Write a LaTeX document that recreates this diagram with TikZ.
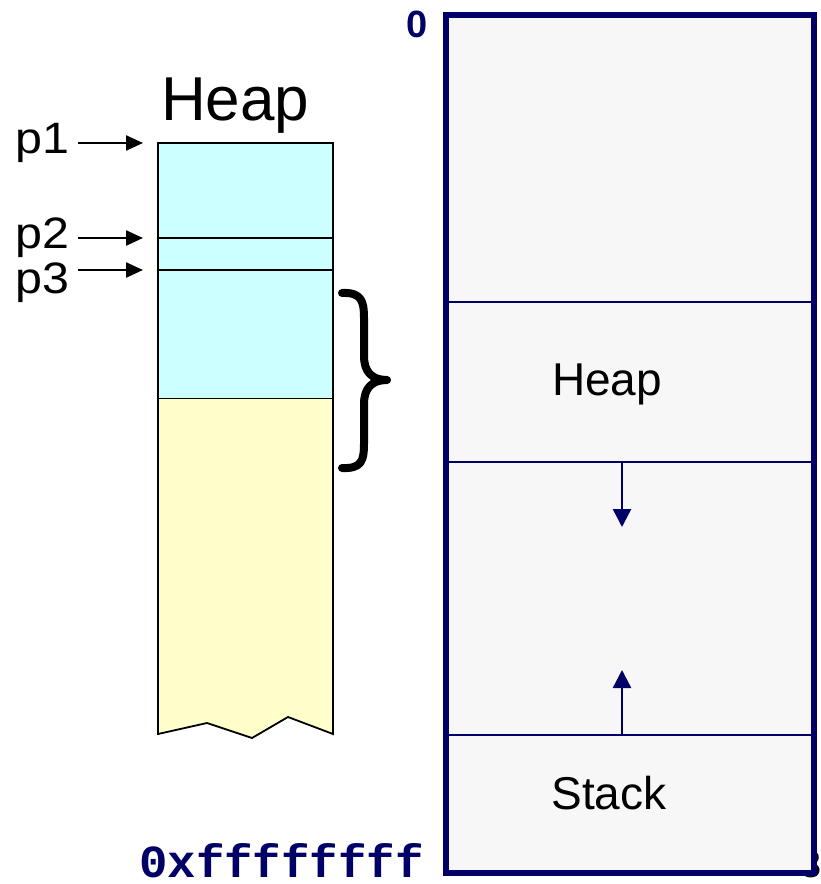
\documentclass[tikz,border=0pt]{standalone}
\usepackage{fontspec}
\setmainfont{Liberation Sans}
\newfontfamily\hexfont{Liberation Mono}
\usetikzlibrary{arrows.meta}
\definecolor{navy}{RGB}{0,0,102}
\definecolor{heapcyan}{RGB}{204,255,255}
\definecolor{heapyellow}{RGB}{255,255,204}
\definecolor{boxgray}{RGB}{247,247,247}
\tikzset{
  lbl/.style={inner sep=0pt, anchor=base west},
  ptrarrow/.style={line width=2.4pt, -{Triangle[length=17pt,width=15pt]}},
  navyarrow/.style={navy, line width=2.4pt, -{Triangle[length=18pt,width=18pt]}},
  divider/.style={navy, line width=1.6pt},
}
\begin{document}
\begin{tikzpicture}[x=1pt,y=-1pt]
\useasboundingbox (0,0) rectangle (821,884);
% partial glyph at right edge (mostly hidden behind the box)
\node[lbl] (cut) at (800,877) {\fontsize{38}{40}\selectfont 3};
% ---------- left heap column ----------
\coordinate (hTL) at (158,143);
\coordinate (hTR) at (333,143);
\coordinate (hSplitL) at (158,398);
\coordinate (hSplitR) at (333,398);
\fill[heapcyan] (hTL) rectangle (hSplitR);
\fill[heapyellow] (hSplitL) -- (hSplitR) -- (333,734) -- (288,717) -- (252,738) -- (207,723) -- (158,734) -- cycle;
\draw[line width=1pt] (hSplitL) -- (hSplitR);
\draw[line width=1.4pt] (158,238) -- (333,238);
\draw[line width=1.4pt] (158,270) -- (333,270);
\draw[line width=1.8pt, line join=miter] (hTL) -- (hTR) -- (333,734) -- (288,717) -- (252,738) -- (207,723) -- (158,734) -- cycle;
\node[lbl] (heapL) at (161,120) {\fontsize{62}{66}\selectfont Heap};
% pointer labels and arrows
\node[lbl] (p1) at (15,153) {\fontsize{44}{48}\selectfont\scalebox{1.1}[1]{p1}};
\node[lbl] (p2) at (15,248) {\fontsize{44}{48}\selectfont\scalebox{1.1}[1]{p2}};
\node[lbl] (p3) at (15,293) {\fontsize{44}{48}\selectfont\scalebox{1.1}[1]{p3}};
\coordinate (a1s) at (78,143); \coordinate (a1e) at (143,143);
\coordinate (a2s) at (78,238); \coordinate (a2e) at (143,238);
\coordinate (a3s) at (78,270); \coordinate (a3e) at (143,270);
\draw[ptrarrow] (a1s) -- (a1e);
\draw[ptrarrow] (a2s) -- (a2e);
\draw[ptrarrow] (a3s) -- (a3e);
% brace
\draw[line width=8pt, line cap=round, line join=round]
  (342,293) .. controls (362,292) and (364,302) .. (364,318)
  -- (364,356) .. controls (364,372) and (372,380) .. (387,380)
  .. controls (372,380) and (364,388) .. (364,404)
  -- (364,444) .. controls (364,460) and (362,469) .. (342,468);
% ---------- right address space box ----------
\coordinate (bTL) at (446,15);
\coordinate (bBR) at (814,873);
\fill[boxgray] (bTL) rectangle (bBR);
\draw[divider] (446,302) -- (814,302);
\draw[divider] (446,462) -- (814,462);
\draw[divider] (446,735) -- (814,735);
\draw[navy, line width=6pt] (bTL) rectangle (bBR);
\node[inner sep=0pt, anchor=base] (heapR) at (607,395) {\fontsize{46}{50}\selectfont Heap};
\node[inner sep=0pt, anchor=base] (stack) at (609,809) {\fontsize{46}{50}\selectfont Stack};
\coordinate (dnS) at (622,462); \coordinate (dnE) at (622,527);
\coordinate (upS) at (622,735); \coordinate (upE) at (622,670);
\draw[navyarrow] (dnS) -- (dnE);
\draw[navyarrow] (upS) -- (upE);
\node[inner sep=0pt, anchor=base] (zero) at (417,37) {\fontsize{38}{40}\selectfont\bfseries\color{navy}0};
\node[lbl] (ffff) at (139,877) {\fontsize{46}{48}\selectfont\hexfont\bfseries\color{navy}\scalebox{1.03}[1]{0xffffffff}};
\end{tikzpicture}
\end{document}
